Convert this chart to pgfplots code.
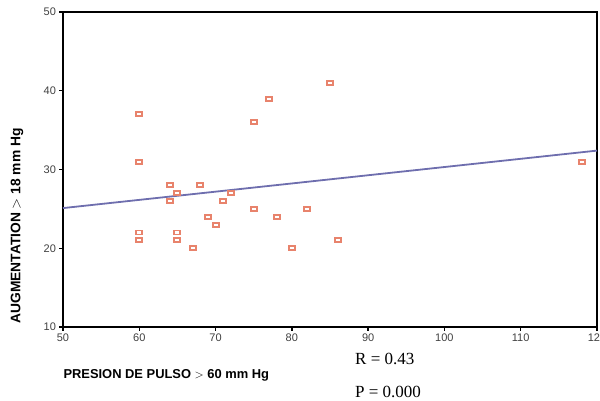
\documentclass[border=0pt]{standalone}
\usepackage{fontspec}
\setmainfont{Liberation Sans}
\newfontfamily\timesfont{Liberation Serif}
\usepackage{pgfplots}
\pgfplotsset{compat=1.18}

\definecolor{markc}{HTML}{E8836C}
\definecolor{linec}{HTML}{6E6EAE}

\pgfdeclareplotmark{rbox}{%
  \pgfpathrectangle{\pgfpoint{-3pt}{-2pt}}{\pgfpoint{6pt}{4pt}}%
  \pgfusepathqstroke}

\begin{document}
\begin{tikzpicture}
\begin{axis}[
  scale only axis, width=534pt, height=315pt,
  xmin=50, xmax=120, ymin=10, ymax=50,
  xtick={50,60,...,120}, ytick={10,20,...,50},
  xtick pos=bottom, ytick pos=left,
  tick align=outside, major tick length=3.5pt,
  tick style={line width=1.4pt, black},
  axis line style={line width=1.8pt},
  ticklabel style={font=\fontsize{11}{13}\selectfont, text=black!75},
  /pgf/number format/assume math mode=true,
  xticklabel style={yshift=0pt},
  clip=false,
]
% observations
\addplot[only marks, mark=rbox, mark options={draw=markc, line width=1.9pt}]
  coordinates {
  (60,37) (60,31) (60,22) (60,21)
  (64,28) (64,26) (65,27) (65,22) (65,21)
  (67,20) (68,28) (69,24) (70,23) (71,26) (72,27)
  (75,36) (75,25) (77,39) (78,24) (80,20) (82,25)
  (85,41) (86,21) (118,31)
  };
% fitted line
\addplot[linec, line width=1.8pt] coordinates {(50,25.1) (120,32.4)};
\end{axis}
\node[rotate=90, font=\fontsize{13.8}{16}\selectfont] at (-46pt,101pt)
  {\bfseries AUGMENTATION \mdseries$>$ \bfseries 18 mm Hg};
\node[anchor=west, font=\fontsize{12.9}{15}\selectfont] at (-3pt,-48pt)
  {\bfseries PRESION DE PULSO \mdseries$>$ \bfseries 60 mm Hg};
\node[anchor=west, font=\timesfont\fontsize{17}{20}\selectfont, inner sep=0pt] at (292pt,-32pt) {R = 0.43};
\node[anchor=west, font=\timesfont\fontsize{17}{20}\selectfont, inner sep=0pt] at (292pt,-64.5pt) {P = 0.000};
\pgfresetboundingbox
\path[use as bounding box] (-63pt,-73pt) rectangle (537pt,327pt);
\end{tikzpicture}
\end{document}
